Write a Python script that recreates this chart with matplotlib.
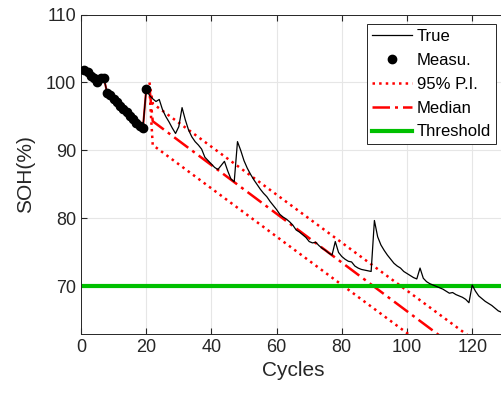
import numpy as np
import matplotlib
matplotlib.use("Agg")
from matplotlib import pyplot as plt

plt.rcParams['font.family'] = ['Liberation Sans', 'DejaVu Sans']

# Medidas (ciclos 1-20)
meas_cyc = np.arange(1, 21)
meas_soh = [101.8, 101.5, 101.0, 100.6, 100.0, 100.7, 100.7, 98.5, 98.1, 97.6,
            97.1, 96.6, 96.1, 95.6, 95.1, 94.6, 94.1, 93.6, 93.3, 99.0]

# Curva real (ciclos 1-129)
true_cyc = np.arange(1, 130)
true_soh = meas_soh + [
    98.1, 97.6, 97.2, 97.5, 96.0, 95.0, 94.2, 93.3, 92.5, 93.5,
    96.3, 94.5, 93.0, 92.0, 91.3, 90.8, 90.2, 89.0, 88.5, 88.0,
    87.5, 87.2, 87.8, 88.4, 87.0, 85.8, 85.4, 91.3, 90.0, 88.5,
    87.4, 86.5, 85.7, 85.0, 84.3, 83.7, 83.2, 82.5, 81.9, 81.3,
    80.6, 80.2, 79.9, 79.5, 79.0, 78.3, 78.0, 77.6, 77.2, 76.6,
    76.4, 76.5, 76.0, 75.6, 75.3, 74.9, 74.6, 76.6, 75.0, 74.4,
    74.0, 73.7, 73.6, 73.0, 72.7, 72.5, 72.4, 72.3, 72.2, 79.7,
    77.3, 76.1, 75.3, 74.6, 74.0, 73.4, 73.0, 72.7, 72.2, 71.9,
    71.6, 71.3, 71.1, 72.7, 71.2, 70.7, 70.4, 70.2, 70.0, 69.8,
    69.6, 69.3, 69.0, 69.1, 68.8, 68.6, 68.4, 68.1, 67.6, 70.2,
    69.3, 68.6, 68.2, 67.8, 67.5, 67.2, 66.8, 66.4, 66.2]

# Prediccion
pred_cyc = [21, 22, 130]
pi_up = [100.0, 96.9, 58.8]
pi_low = [99.0, 90.8, 52.5]
median = [99.3, 94.3, 55.6]

threshold = 70

fig = plt.figure(figsize=(5.01, 3.99), dpi=100)
ax = fig.add_axes([81/501, 65/399, 423.8/501, 319.5/399])

ax.plot(true_cyc, true_soh, '-', color='black', linewidth=0.9, label='True', zorder=3)
ax.plot(meas_cyc, meas_soh, '-', color='#e00000', linewidth=1.5, zorder=2)
ax.plot(meas_cyc, meas_soh, 'o', color='black', markersize=6, label='Measu.', zorder=4)
ax.plot(pred_cyc, pi_up, ':', color='red', linewidth=1.8, label='95% P.I.')
ax.plot(pred_cyc, pi_low, ':', color='red', linewidth=1.8)
ax.plot(pred_cyc, median, color='red', linewidth=1.8, linestyle=(0, (7, 2, 1.2, 2)), label='Median')
ax.axhline(threshold, color='#00c000', linewidth=3, label='Threshold')

ax.set_xlim(0, 130)
ax.set_ylim(63, 110)
ax.set_xticks(range(0, 121, 20))
ax.set_yticks(range(70, 111, 10))
ax.grid(True, color='#e6e6e6', linewidth=0.8)
ax.set_axisbelow(True)
ax.tick_params(direction='in', labelsize=13, colors='#262626', top=True, length=4)
for s in ax.spines.values():
    s.set_color('#262626')
    s.set_linewidth(0.7)
ax.set_xlabel('Cycles', fontsize=15, color='#262626')
ax.set_ylabel('SOH(%)', fontsize=15, color='#262626', labelpad=8)

leg = ax.legend(loc='upper right', bbox_to_anchor=(0.979, 0.970), borderaxespad=0,
                fontsize=12, fancybox=False, framealpha=1, edgecolor='#262626',
                handlelength=2.4, handletextpad=0.25, labelspacing=0.53, borderpad=0.3)
leg.get_frame().set_linewidth(0.7)

fig.savefig('out.png', dpi=100)
